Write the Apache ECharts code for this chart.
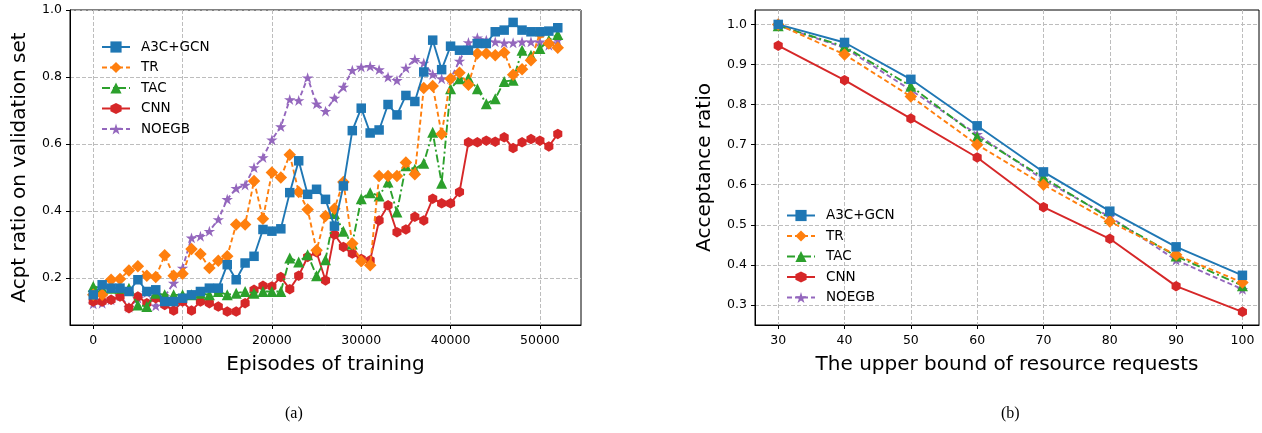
<!DOCTYPE html>
<html>
<head>
<meta charset="utf-8">
<script src="https://cdn.jsdelivr.net/npm/echarts@6/dist/echarts.min.js"></script>
<style>
html,body{margin:0;padding:0;background:#fff;}
#c{width:1262px;height:433px;}
</style>
</head>
<body>
<div id="c"></div>
<script>
// ---------- Data: chart (a) ----------
const episodes = [0,1000,2000,3000,4000,5000,6000,7000,8000,9000,10000,11000,12000,13000,14000,15000,16000,17000,18000,19000,20000,21000,22000,23000,24000,25000,26000,27000,28000,29000,30000,31000,32000,33000,34000,35000,36000,37000,38000,39000,40000,41000,42000,43000,44000,45000,46000,47000,48000,49000,50000,51000,52000];
const a3cTrain = [0.15,0.18,0.17,0.17,0.16,0.195,0.16,0.165,0.13,0.13,0.14,0.15,0.16,0.17,0.17,0.24,0.195,0.245,0.265,0.345,0.34,0.347,0.455,0.55,0.45,0.465,0.435,0.355,0.475,0.64,0.707,0.633,0.642,0.718,0.687,0.745,0.727,0.815,0.91,0.822,0.892,0.88,0.88,0.9,0.9,0.935,0.94,0.963,0.94,0.935,0.935,0.937,0.947];
const trTrain = [0.15,0.15,0.195,0.197,0.223,0.235,0.207,0.203,0.268,0.207,0.213,0.287,0.272,0.23,0.252,0.265,0.36,0.36,0.49,0.377,0.515,0.50,0.568,0.457,0.405,0.283,0.385,0.407,0.487,0.303,0.25,0.238,0.505,0.505,0.505,0.545,0.51,0.767,0.773,0.63,0.795,0.813,0.777,0.87,0.87,0.865,0.873,0.807,0.823,0.85,0.93,0.9,0.887];
const tacTrain = [0.175,0.17,0.17,0.17,0.17,0.12,0.115,0.155,0.15,0.15,0.15,0.15,0.155,0.15,0.16,0.15,0.155,0.16,0.155,0.16,0.16,0.16,0.26,0.248,0.27,0.207,0.255,0.393,0.34,0.302,0.437,0.455,0.445,0.487,0.397,0.535,0.525,0.543,0.635,0.483,0.765,0.795,0.797,0.765,0.72,0.735,0.787,0.79,0.88,0.865,0.885,0.91,0.927];
const cnnTrain = [0.13,0.13,0.135,0.145,0.11,0.145,0.125,0.14,0.12,0.103,0.13,0.103,0.13,0.125,0.115,0.1,0.1,0.125,0.165,0.177,0.175,0.203,0.167,0.207,0.263,0.277,0.193,0.33,0.293,0.273,0.257,0.253,0.372,0.417,0.337,0.345,0.383,0.372,0.437,0.423,0.423,0.457,0.605,0.605,0.61,0.607,0.62,0.588,0.605,0.615,0.61,0.593,0.63];
const noegbTrain = [0.123,0.125,0.135,0.147,0.113,0.14,0.157,0.117,0.145,0.185,0.23,0.32,0.325,0.34,0.375,0.435,0.468,0.478,0.53,0.56,0.613,0.652,0.733,0.73,0.798,0.72,0.698,0.737,0.77,0.82,0.83,0.832,0.822,0.8,0.79,0.827,0.853,0.842,0.808,0.795,0.795,0.848,0.903,0.917,0.91,0.905,0.902,0.902,0.905,0.905,0.905,0.895,0.91];
const xTicksA = [0,10000,20000,30000,40000,50000];
const yTicksA = [0.2,0.4,0.6,0.8,1.0];

// ---------- Data: chart (b) ----------
const bounds = [30,40,50,60,70,80,90,100];
const a3cRatio = [1.0,0.955,0.863,0.747,0.632,0.534,0.445,0.374];
const trRatio = [1.0,0.925,0.82,0.70,0.60,0.508,0.425,0.356];
const tacRatio = [0.997,0.945,0.846,0.72,0.618,0.516,0.422,0.348];
const cnnRatio = [0.947,0.861,0.765,0.668,0.544,0.465,0.347,0.283];
const noegbRatio = [0.997,0.942,0.836,0.726,0.612,0.52,0.412,0.339];
const xTicksB = [30,40,50,60,70,80,90,100];
const yTicksB = [0.3,0.4,0.5,0.6,0.7,0.8,0.9,1.0];

const names = ['A3C+GCN','TR','TAC','CNN','NOEGB'];

// ---------- Styles ----------
const colors = ['#1f77b4','#ff7f0e','#2ca02c','#d62728','#9467bd'];
const STAR = 'path://M0,-10L2.245,-3.09L9.511,-3.09L3.633,1.18L5.878,8.09L0,3.82L-5.878,8.09L-3.633,1.18L-9.511,-3.09L-2.245,-3.09Z';
const HEX = 'path://M0,-10L8.66,-5L8.66,5L0,10L-8.66,5L-8.66,-5Z';
const styles = [
  {symbol:'rect', size:9.5, dash:'solid'},
  {symbol:'diamond', size:12.5, dash:[5,3]},
  {symbol:'triangle', size:11, dash:[8,3,2,3]},
  {symbol:HEX, size:10.5, dash:'solid'},
  {symbol:STAR, size:11.5, dash:[5,3]}
];
const FONT = 'DejaVu Sans';

function zip(xs, ys){ return xs.map((x,i)=>[x,ys[i]]); }

function mkSeries(idx, data, gi){
  const s = styles[idx];
  return {
    name: names[idx], type:'line', xAxisIndex:gi, yAxisIndex:gi,
    data: data, symbol: s.symbol, symbolSize: s.size, symbolKeepAspect:true,
    showAllSymbol:true, animation:false, z: 10 - idx,
    itemStyle:{color:colors[idx], opacity:1},
    lineStyle:{color:colors[idx], width:1.9, type:s.dash}
  };
}

function xAxis(gi, min, max, ticks, name){
  return {
    type:'value', gridIndex:gi, min:min, max:max,
    name:name, nameLocation:'middle', nameGap:30,
    nameTextStyle:{fontFamily:FONT, fontSize:20, color:'#000'},
    axisLine:{show:true, onZero:false, lineStyle:{color:'#000', width:1}},
    axisTick:{show:true, length:4, customValues:ticks, lineStyle:{color:'#000'}},
    axisLabel:{customValues:ticks, fontFamily:FONT, fontSize:12.5, color:'#000', margin:9,
               formatter:(v)=>String(v)},
    splitLine:{show:true, lineStyle:{color:'#bdbdbd', type:[4,2], width:1}}
  };
}
function yAxis(gi, min, max, ticks, name){
  return {
    type:'value', gridIndex:gi, min:min, max:max,
    name:name, nameLocation:'middle', nameGap:40, nameRotate:90,
    nameTextStyle:{fontFamily:FONT, fontSize:20, color:'#000'},
    axisLine:{show:true, onZero:false, lineStyle:{color:'#000', width:1}},
    axisTick:{show:true, length:4, customValues:ticks, lineStyle:{color:'#000'}},
    axisLabel:{customValues:ticks, fontFamily:FONT, fontSize:12.5, color:'#000', margin:8,
               formatter:(v)=>v.toFixed(1)},
    splitLine:{show:true, lineStyle:{color:'#bdbdbd', type:[4,2], width:1}}
  };
}

const legendBase = {
  orient:'vertical', itemWidth:28, itemHeight:14, itemGap:6.5,
  textStyle:{fontFamily:FONT, fontSize:13.5, color:'#000', padding:[0,0,0,6]},
  data:names, selectedMode:false, backgroundColor:'rgba(255,255,255,0)'
};

const series = [];
[a3cTrain,trTrain,tacTrain,cnnTrain,noegbTrain].forEach((ys,i)=>series.push(mkSeries(i, zip(episodes, ys), 0)));
[a3cRatio,trRatio,tacRatio,cnnRatio,noegbRatio].forEach((ys,i)=>series.push(mkSeries(i, zip(bounds, ys), 1)));

const option = {
  backgroundColor:'#fff',
  animation:false,
  grid:[
    {left:70, top:10, width:511, height:315, show:true, borderColor:'#000', borderWidth:1, containLabel:false},
    {left:755, top:10, width:504, height:315, show:true, borderColor:'#000', borderWidth:1, containLabel:false}
  ],
  xAxis:[
    xAxis(0, -2600, 54600, xTicksA, 'Episodes of training'),
    xAxis(1, 26.5, 102.5, xTicksB, 'The upper bound of resource requests')
  ],
  yAxis:[
    yAxis(0, 0.06, 1.0, yTicksA, 'Acpt ratio on validation set'),
    yAxis(1, 0.25, 1.036, yTicksB, 'Acceptance ratio')
  ],
  legend:[
    Object.assign({}, legendBase, {left:96, top:35}),
    Object.assign({}, legendBase, {left:781, top:203.5})
  ],
  graphic:[
    {type:'text', left:285, top:406, style:{text:'(a)', font:'16px "Liberation Serif", "Times New Roman", serif', fill:'#000'}},
    {type:'text', left:1001, top:406, style:{text:'(b)', font:'16px "Liberation Serif", "Times New Roman", serif', fill:'#000'}}
  ],
  series:series
};

const chart = echarts.init(document.getElementById('c'), null, {renderer:'canvas'});
chart.setOption(option);
</script>
</body>
</html>
